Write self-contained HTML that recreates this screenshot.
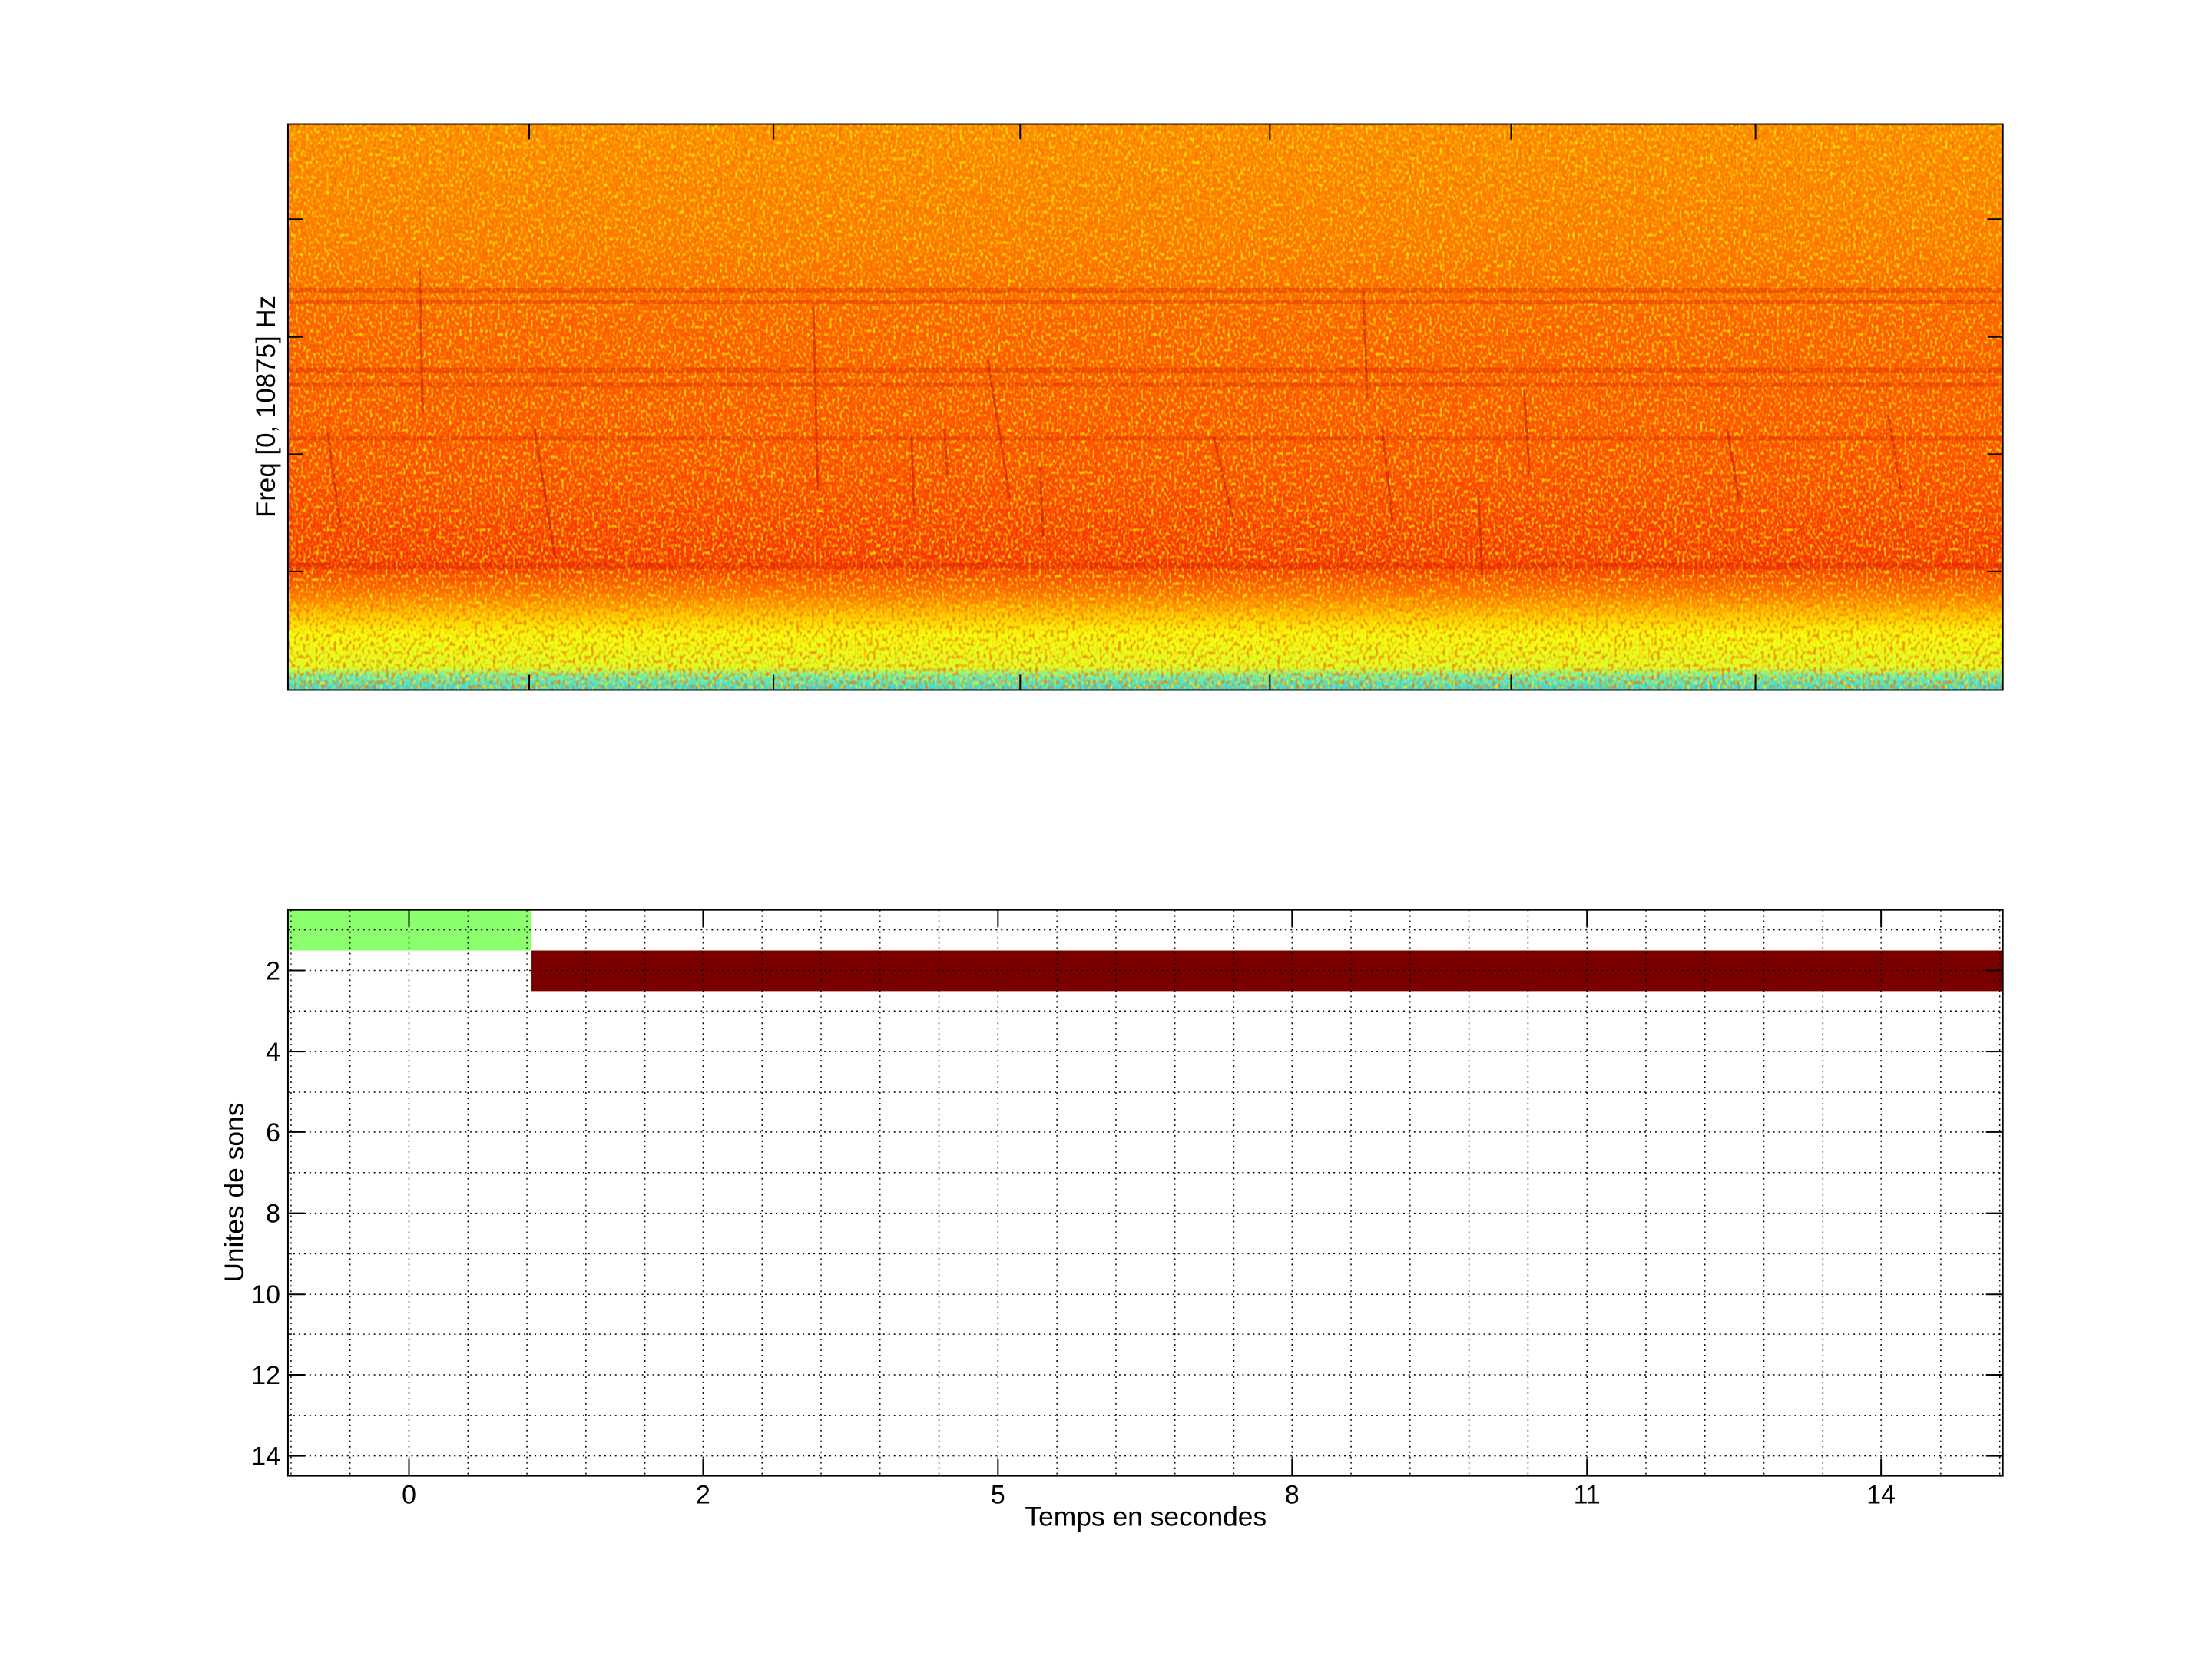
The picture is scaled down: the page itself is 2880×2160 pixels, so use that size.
<!DOCTYPE html>
<html><head><meta charset="utf-8"><style>
html,body{margin:0;padding:0;background:#fff}
svg{display:block}
text{font-family:"Liberation Sans",sans-serif;fill:#000}
</style></head><body>
<svg width="2880" height="2160" viewBox="0 0 2880 2160" xmlns="http://www.w3.org/2000/svg">
<defs>
<linearGradient id="bg" x1="0" y1="0" x2="0" y2="1">
<stop offset="0" stop-color="#ff8c00"/>
<stop offset="0.22" stop-color="#ff7800"/>
<stop offset="0.35" stop-color="#ff5c00"/>
<stop offset="0.6" stop-color="#ff4a00"/>
<stop offset="0.78" stop-color="#f83000"/>
<stop offset="0.83" stop-color="#ff7000"/>
<stop offset="0.87" stop-color="#ffc800"/>
<stop offset="0.9" stop-color="#f4ff10"/>
<stop offset="0.96" stop-color="#d8ff30"/>
<stop offset="0.975" stop-color="#60f0c0"/>
<stop offset="1" stop-color="#30d8e8"/>
</linearGradient>
<filter id="noise" x="0" y="0" width="100%" height="100%">
<feTurbulence type="fractalNoise" baseFrequency="0.3 0.2" numOctaves="1" seed="3"/>
<feColorMatrix type="matrix" values="0 0 0 0 1  0 0 0 0 0.85  0 0 0 0 0  4 0 0 0 -1.9"/>
</filter>
<filter id="noise2" x="0" y="0" width="100%" height="100%">
<feTurbulence type="fractalNoise" baseFrequency="0.25 0.18" numOctaves="1" seed="9"/>
<feColorMatrix type="matrix" values="0 0 0 0 0.9  0 0 0 0 0.15  0 0 0 0 0  4 0 0 0 -1.9"/>
</filter>
<clipPath id="cp"><rect x="376" y="162" width="2239" height="739"/></clipPath>
</defs>
<g transform="scale(0.9972)">
<g clip-path="url(#cp)">
<rect x="376" y="162" width="2239" height="739" fill="url(#bg)"/>
<rect x="376" y="162" width="2239" height="739" filter="url(#noise)" opacity="0.85"/>
<rect x="376" y="162" width="2239" height="739" filter="url(#noise2)" opacity="0.7"/>
<g fill="#d82000" opacity="0.35">
<rect x="376" y="376" width="2239" height="6"/>
<rect x="376" y="392" width="2239" height="5"/>
<rect x="376" y="480" width="2239" height="7"/>
<rect x="376" y="500" width="2239" height="5"/>
<rect x="376" y="570" width="2239" height="5"/>
<rect x="376" y="735" width="2239" height="8"/>
</g>
<g stroke="#b00000" stroke-width="3" opacity="0.4" fill="none">
<path d="M428 565 L445 690"/><path d="M548 350 L552 540"/><path d="M698 560 L725 730"/>
<path d="M1062 400 L1068 640"/><path d="M1190 570 L1194 670"/><path d="M1233 560 L1237 620"/>
<path d="M1290 470 L1318 650"/><path d="M1358 610 L1362 700"/><path d="M1585 570 L1610 680"/>
<path d="M1780 380 L1785 520"/><path d="M1805 560 L1818 680"/><path d="M1990 510 L1997 620"/>
<path d="M1930 640 L1935 750"/><path d="M2255 560 L2272 660"/><path d="M2465 540 L2482 640"/>
</g>
</g>
<rect x="376" y="162" width="2239" height="739" fill="none" stroke="#000" stroke-width="2"/>
<g stroke="#000" stroke-width="2">
<path d="M376 286h20M376 440h20M376 593h20M376 746h20M2615 286h-20M2615 440h-20M2615 593h-20M2615 746h-20"/>
<path d="M691 162v20M1010 162v20M1332 162v20M1658 162v20M1973 162v20M2292 162v20M691 901v-20M1010 901v-20M1332 901v-20M1658 901v-20M1973 901v-20M2292 901v-20"/>
</g>
<text transform="translate(359,531) rotate(-90)" font-size="35" text-anchor="middle">Freq [0, 10875] Hz</text>

<rect x="376" y="1188" width="318" height="53" fill="#8cff6e"/>
<rect x="694" y="1241" width="1921" height="53" fill="#7a0000"/>
<g stroke="#000" stroke-width="1.5" stroke-dasharray="2 5" fill="none">
<path d="M380 1188V1927M457 1188V1927M611 1188V1927M688 1188V1927M765 1188V1927M842 1188V1927M995 1188V1927M1072 1188V1927M1149 1188V1927M1226 1188V1927M1380 1188V1927M1457 1188V1927M1534 1188V1927M1611 1188V1927M1764 1188V1927M1841 1188V1927M1918 1188V1927M1995 1188V1927M2149 1188V1927M2226 1188V1927M2303 1188V1927M2380 1188V1927M2534 1188V1927M2611 1188V1927"/>
<path d="M534 1188V1927M918 1188V1927M1303 1188V1927M1687 1188V1927M2072 1188V1927M2456 1188V1927"/>
<path d="M376 1214H2615M376 1267H2615M376 1320H2615M376 1373H2615M376 1426H2615M376 1478H2615M376 1531H2615M376 1584H2615M376 1637H2615M376 1690H2615M376 1742H2615M376 1795H2615M376 1848H2615M376 1901H2615"/>
</g>
<rect x="376" y="1188" width="2239" height="739" fill="none" stroke="#000" stroke-width="2"/>
<g stroke="#000" stroke-width="2">
<path d="M534 1927v-22M918 1927v-22M1303 1927v-22M1687 1927v-22M2072 1927v-22M2456 1927v-22M534 1188v22M918 1188v22M1303 1188v22M1687 1188v22M2072 1188v22M2456 1188v22"/>
<path d="M376 1267h22M376 1373h22M376 1478h22M376 1584h22M376 1690h22M376 1795h22M376 1901h22M2615 1267h-22M2615 1373h-22M2615 1478h-22M2615 1584h-22M2615 1690h-22M2615 1795h-22M2615 1901h-22"/>
</g>
<g font-size="34" text-anchor="end">
<text x="366" y="1279">2</text><text x="366" y="1385">4</text><text x="366" y="1490">6</text>
<text x="366" y="1596">8</text><text x="366" y="1702">10</text><text x="366" y="1807">12</text><text x="366" y="1913">14</text>
</g>
<g font-size="34" text-anchor="middle">
<text x="534" y="1963">0</text><text x="918" y="1963">2</text><text x="1303" y="1963">5</text>
<text x="1687" y="1963">8</text><text x="2072" y="1963">11</text><text x="2456" y="1963">14</text>
</g>
<text x="1496" y="1992" font-size="35.5" text-anchor="middle">Temps en secondes</text>
<text transform="translate(318,1557) rotate(-90)" font-size="35.5" text-anchor="middle">Unites de sons</text>
</g>
</svg>
</body></html>
